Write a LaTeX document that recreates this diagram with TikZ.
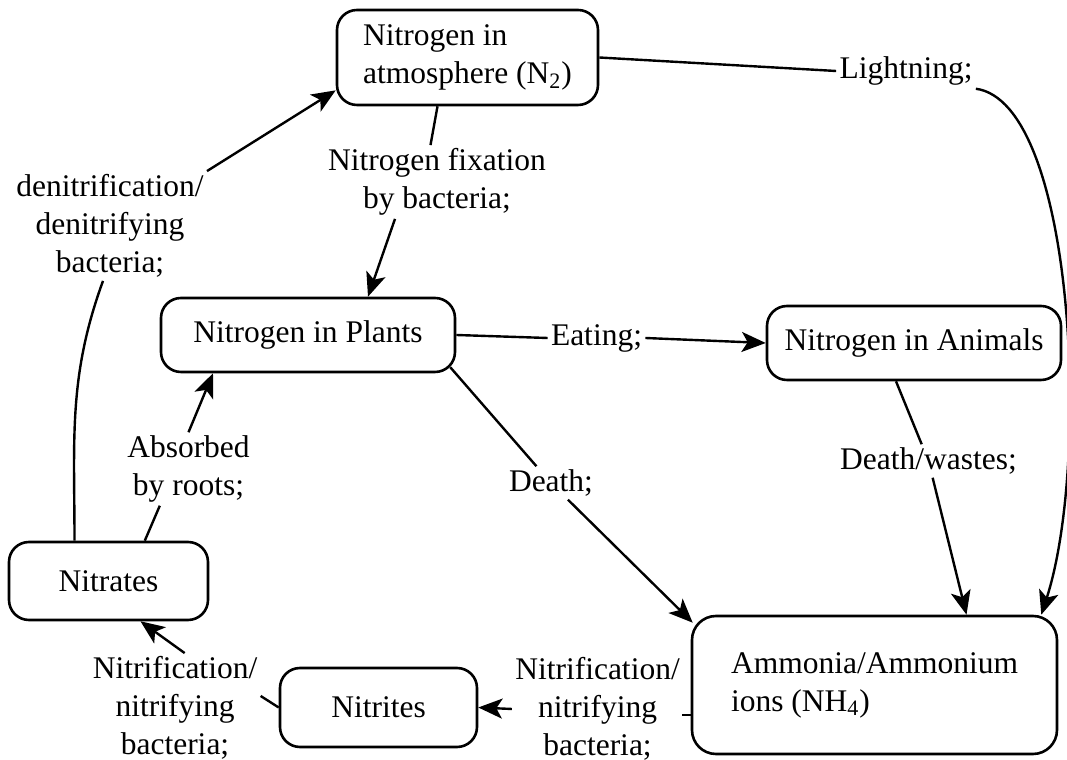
\documentclass[tikz,border=0pt]{standalone}
\usepackage{fontspec}
\setmainfont{Liberation Serif}
\usetikzlibrary{arrows.meta}
\tikzset{
	stagebox/.style={draw, line width=1.3pt, rounded corners=10pt, inner sep=3pt, font=\fontsize{15.75pt}{19pt}\selectfont},
	steplabel/.style={inner sep=1.5pt, align=center, font=\fontsize{15.75pt}{19pt}\selectfont},
	link/.style={line width=1.2pt},
	flow/.style={link, -{Stealth[length=12pt,width=10pt,inset=3pt]}}
}
\begin{document}
\begin{tikzpicture}[x=0.5pt, y=0.5pt]
		\useasboundingbox (0,0) rectangle (1067,760);
		
		\node [stagebox, align=left, minimum width=130.5pt, minimum height=47.5pt] (atm) at (467.5,702.5) {Nitrogen in\\atmosphere (N\textsubscript{2})};
		\node [stagebox, minimum width=147pt, minimum height=37pt] (plants) at (308,425) {Nitrogen in Plants};
		\node [stagebox, minimum width=147pt, minimum height=37pt] (animals) at (914,417) {Nitrogen in Animals};
		\node [stagebox, align=left, rounded corners=12pt, minimum width=182.5pt, minimum height=69pt] (ammonia) at (874.5,75) {Ammonia/Ammonium\\ions (NH\textsubscript{4})};
		\node [stagebox, minimum width=99.5pt, minimum height=39pt] (nitrates) at (108.5,179) {Nitrates};
		\node [stagebox, minimum width=98.5pt, minimum height=39.5pt] (nitrites) at (378.5,52.5) {Nitrites};
		
		\node [steplabel] (light) at (906,689) {Lightning;};
		\node [steplabel] (fix) at (437,578) {Nitrogen fixation\\by bacteria;};
		\node [steplabel] (denit) at (110,534) {denitrification/\\denitrifying\\bacteria;};
		\node [steplabel] (absorb) at (188.5,291) {Absorbed\\by roots;};
		\node [steplabel] (eat) at (596.5,422) {Eating;};
		\node [steplabel] (death) at (551,277) {Death;};
		\node [steplabel] (waste) at (928.5,299) {Death/wastes;};
		\node [steplabel] (nitrA) at (597.5,51) {Nitrification/\\nitrifying\\bacteria;};
		\node [steplabel] (nitrB) at (175,52) {Nitrification/\\nitrifying\\bacteria;};
		
		\draw[link] (atm.east) -- (light.west);
		\draw[flow] (light.south east) to[out=-8, in=72, out distance=50pt, in distance=80pt] ([xshift=-8.5pt]ammonia.north east);
		
		\draw[link] ([xshift=-15pt]atm.south) -- (fix.100);
		\draw[flow] ([xshift=-21pt]fix.south) -- ([xshift=30pt]plants.north);
		
		\draw[link] ([xshift=-17pt]nitrates.north) to[out=90, in=-110] ([xshift=-3.5pt]denit.south);
		\draw[flow] (denit.north east) -- (atm.194);
		
		\draw[link] (nitrates.48) -- (absorb.232);
		\draw[flow] (absorb.north) -- ([xshift=-47.5pt]plants.south);
		
		\draw[link] (plants.east) -- (eat.west);
		\draw[flow] (eat.east) -- (animals.west);
		
		\draw[link] ([shift={(-3pt,3pt)}]plants.south east) -- (death);
		\draw[flow] (death) -- ([shift={(1pt,-4pt)}]ammonia.north west);
		
		\draw[link] ([xshift=-9pt]animals.south) -- (waste);
		\draw[flow] (waste) -- ([xshift=46pt]ammonia.north);
		
		\draw[link] ([yshift=-15pt]ammonia.west) -- +(-4.5pt,0);
		\draw[flow] (nitrA.west) -- (nitrites.east);
		
		\draw[link] (nitrites.west) -- (nitrB.8);
		\draw[flow] (nitrB.80) -- ([xshift=16pt]nitrates.south);
\end{tikzpicture}
\end{document}
